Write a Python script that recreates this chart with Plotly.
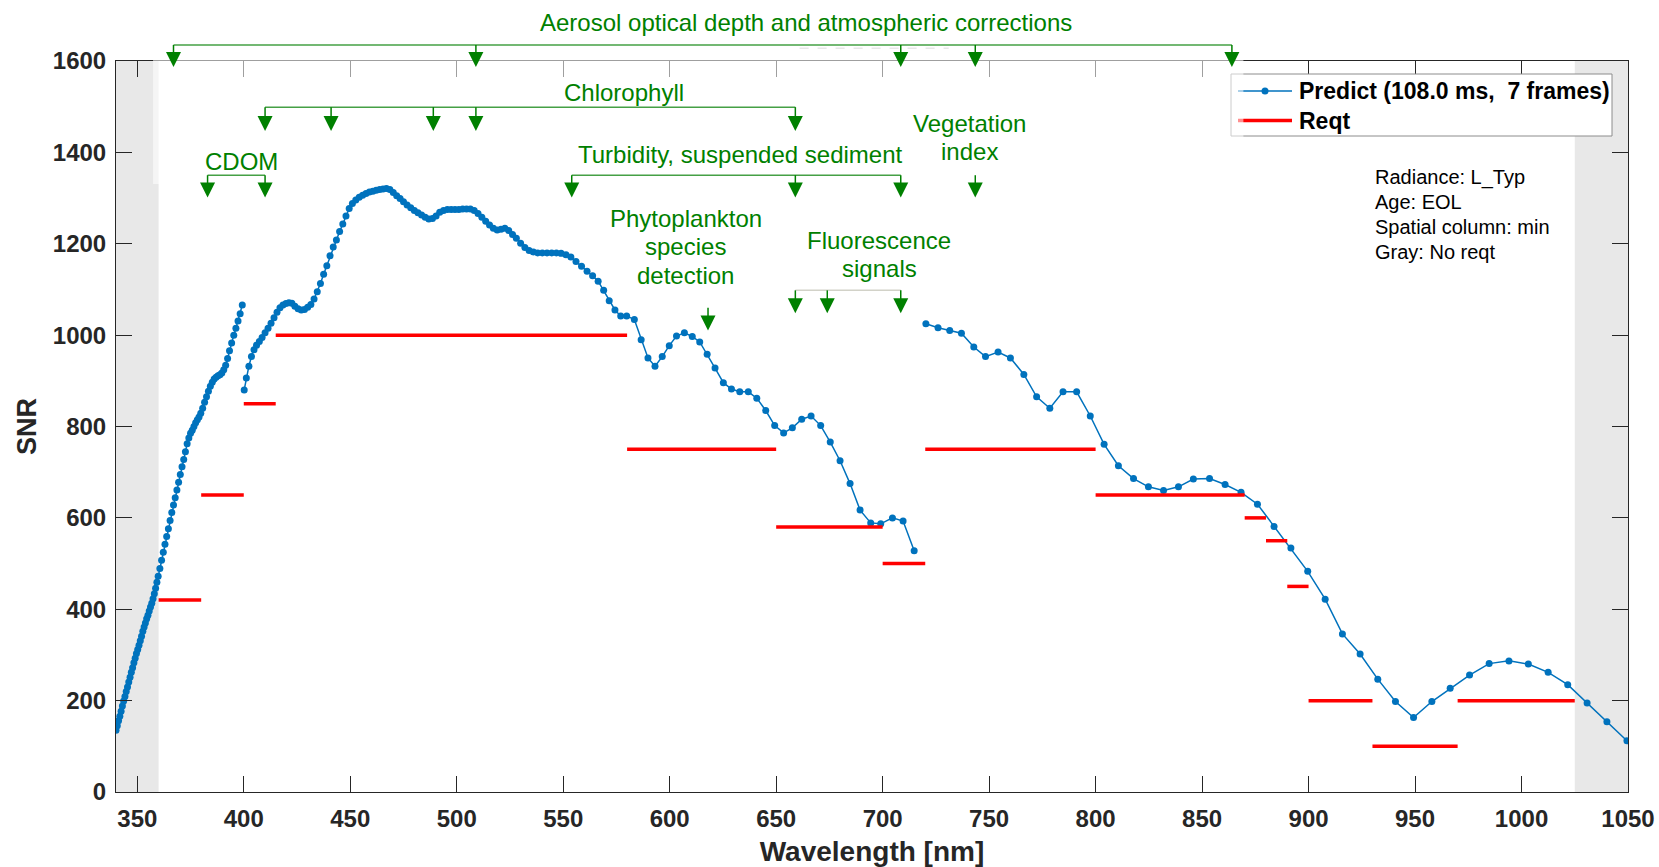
import plotly.graph_objects as go

FONT = "Liberation Sans, Arial, Helvetica, sans-serif"
AX_COLOR = "#262626"
GREEN = "#008000"
BLUE = "#0072BD"
RED = "#FF0000"

# ---------------- data ----------------
# Predict, segment 1 (340-399 nm)
seg1_wl = [340.0, 340.6, 341.2, 341.8, 342.4, 343.0, 343.6, 344.2, 344.8, 345.4,
           346.0, 346.6, 347.2, 347.8, 348.4, 349.0, 349.6, 350.2, 350.8, 351.4,
           352.0, 352.6, 353.2, 353.8, 354.4, 355.0, 355.6, 356.2, 356.8, 357.4,
           358.0, 358.6, 359.2, 359.8,
           360.6, 361.4, 362.2, 363.0, 363.8, 364.6, 365.4, 366.2, 367.0, 367.8,
           368.6, 369.4, 370.2, 371.0, 371.8, 372.6, 373.4, 374.2, 375.0, 375.8,
           376.6, 377.4, 378.2, 379.0, 379.8,
           380.7, 381.6, 382.5, 383.4, 384.3, 385.2, 386.1, 387.0, 387.9, 388.8,
           389.7, 390.6, 391.5, 392.4, 393.3, 394.3, 395.3, 396.3, 397.3, 398.3,
           399.3]
seg1_snr = [135, 145, 156, 166, 177, 188, 199, 209, 220, 230,
            241, 251, 262, 272, 283, 293, 303, 312, 321, 331,
            341, 352, 361, 370, 379, 387, 396, 405, 413, 423,
            434, 446, 459, 472,
            489, 507, 525, 542, 559, 576, 594, 612, 628, 644,
            661, 678, 695, 712, 728, 745, 762, 775, 785, 792,
            800, 808, 815, 821, 829,
            840, 853, 865, 877, 888, 897, 904, 908, 911, 913,
            917, 924, 934, 949, 966, 983, 1000, 1015, 1031, 1047,
            1066]

# Predict, segment 2 (400-715 nm)
seg2_wl = [400.2, 401.2, 402.4, 403.6, 404.8, 406.0, 407.3, 408.6, 410.0, 411.4,
           412.8, 414.2, 415.6, 417.0, 418.4, 419.8, 421.2, 422.6, 424.0, 425.5,
           427.0, 428.5, 430.0, 431.5, 433.0, 434.5, 436.0, 437.5, 439.0, 440.5,
           442.0, 443.5, 445.0, 446.5, 448.0, 449.5, 451.0, 452.6, 454.2, 455.8,
           457.4, 459.0, 460.6, 462.2, 463.8, 465.4, 467.0, 468.6, 470.2, 471.8,
           473.4, 475.0, 476.7, 478.4, 480.1, 481.8, 483.5, 485.2, 486.9, 488.6,
           490.3, 492.0, 493.8, 495.6, 497.4, 499.2, 501.0, 502.8, 504.6, 506.4,
           508.2, 510.0, 511.8, 513.6, 515.4, 517.2, 519.0, 520.8, 522.6, 524.4,
           526.2, 528.0, 530.0, 532.0, 534.0, 536.0, 538.0, 540.2, 542.4, 544.6,
           546.8, 549.0, 551.3, 553.6, 556.0, 558.6, 561.2, 563.8, 566.4, 569.0,
           571.6, 574.3, 577.0, 579.8, 583.4, 586.6, 589.8, 593.1, 596.5, 599.8,
           603.2, 606.9, 610.6, 614.1, 617.6, 621.3, 625.2, 629.0, 632.9, 636.9,
           640.9, 645.1, 649.3, 653.5, 657.6, 662.0, 666.4, 670.9, 675.4, 680.0,
           684.7, 689.4, 694.4, 699.1, 704.6, 709.6, 714.8]
seg2_snr = [880, 906, 932, 953, 968, 978, 986, 995, 1005, 1015,
            1026, 1038, 1050, 1060, 1066, 1069, 1071, 1070, 1063, 1058,
            1055, 1056, 1061, 1067, 1079, 1095, 1113, 1133, 1152, 1174,
            1193, 1208, 1227, 1243, 1261, 1277, 1288, 1296, 1302, 1306,
            1310, 1313, 1315, 1317, 1319, 1320, 1321, 1319, 1312, 1305,
            1299, 1292, 1285, 1279, 1273, 1268, 1263, 1258, 1254, 1255,
            1261, 1269, 1273, 1275, 1275, 1275, 1275, 1276, 1276, 1276,
            1273, 1266, 1258, 1249, 1241, 1234, 1230, 1232, 1234, 1229,
            1220, 1212, 1201, 1192, 1185, 1182, 1180, 1180, 1180, 1180,
            1180, 1179, 1176, 1171, 1161, 1151, 1140, 1130, 1118, 1098,
            1075, 1055, 1042, 1042, 1034, 990, 950, 932, 953, 977,
            998, 1005, 997, 985, 958, 928, 896, 882, 876, 876,
            862, 835, 802, 786, 797, 816, 823, 802, 766, 725,
            675, 617, 589, 587, 600, 593, 528]

# Predict, segment 3 (720-1050 nm)
seg3_wl = [720.3, 726.0, 731.5, 737.0, 742.8, 748.3, 754.2, 760.0, 766.3, 772.3,
           778.5, 784.7, 791.1, 797.5, 804.0, 810.7, 817.8, 824.8, 831.9, 838.9,
           845.9, 853.5, 860.8, 868.3, 876.0, 883.8, 891.7, 899.6, 907.8, 915.9,
           924.2, 932.5, 940.8, 949.3, 957.9, 966.5, 975.6, 984.8, 994.1, 1003.2,
           1012.5, 1021.7, 1030.8, 1040.1, 1049.5]
seg3_snr = [1025, 1016, 1010, 1004, 974, 953, 963, 950, 914, 865,
            840, 876, 876, 823, 761, 714, 686, 668, 660, 668,
            685, 686, 673, 656, 630, 581, 534, 483, 422, 346,
            302, 247, 198, 163, 198, 227, 256, 281, 287, 280,
            262, 235, 195, 154, 112]

# Requirement steps
reqt_start = [360, 380, 400, 415, 580, 650, 700, 720, 800, 870, 880, 890, 900, 930, 970]
reqt_end = [380, 400, 415, 580, 650, 700, 720, 800, 870, 880, 890, 900, 930, 970, 1025]
reqt_snr = [420, 650, 850, 1000, 750, 580, 500, 750, 650, 600, 550, 450, 200, 100, 200]

# Regions without requirement (gray)
noreqt_start = [340, 1025]
noreqt_end = [360, 1050]

# Axis ticks
x_ticks = [350, 400, 450, 500, 550, 600, 650, 700, 750, 800, 850, 900, 950, 1000, 1050]
y_ticks = [0, 200, 400, 600, 800, 1000, 1200, 1400, 1600]
X_RANGE = [340, 1050]
Y_RANGE = [0, 1600]

# Application bands (arrow wavelengths)
aerosol_wl = [367, 509, 708.5, 743.5, 864]
chlorophyll_wl = [410, 441, 489, 509, 659]
cdom_wl = [383, 410]
turbidity_wl = [554, 659, 708.5]
vegetation_wl = [743.5]
phyto_wl = [618]
fluor_wl = [659, 674, 708.5]

legend_names = ["Predict (108.0 ms,\u00a0 7 frames)", "Reqt"]
info_lines = ["Radiance: L_Typ", "Age: EOL", "Spatial column: min", "Gray: No reqt"]

# ---------------- figure ----------------
W, H = 1659, 867
ML, MR, MT, MB = 116, 31, 61, 75
PW, PH = W - ML - MR, H - MT - MB


def ypaper(v):
    return (v - Y_RANGE[0]) / (Y_RANGE[1] - Y_RANGE[0])


def px_x(p):  # page pixel -> paper x
    return (p - ML) / PW


def px_y(p):  # page pixel -> paper y
    return (H - MB - p) / PH


pred_x = seg1_wl + [None] + seg2_wl + [None] + seg3_wl
pred_y = seg1_snr + [None] + seg2_snr + [None] + seg3_snr

rx, ry = [], []
for a, b, v in zip(reqt_start, reqt_end, reqt_snr):
    rx += [a, b, None]
    ry += [v, v, None]

fig = go.Figure()
fig.add_trace(go.Scatter(
    x=pred_x, y=pred_y, mode="lines+markers", name=legend_names[0],
    line=dict(color=BLUE, width=1.5),
    marker=dict(color=BLUE, size=7),
    connectgaps=False, hoverinfo="skip", showlegend=False))
fig.add_trace(go.Scatter(
    x=rx, y=ry, mode="lines", name=legend_names[1],
    line=dict(color=RED, width=3.5),
    connectgaps=False, hoverinfo="skip", showlegend=False))

shapes = []
annotations = []

# gray no-reqt bands
for a, b in zip(noreqt_start, noreqt_end):
    shapes.append(dict(type="rect", xref="x", yref="y", x0=a, x1=b,
                       y0=Y_RANGE[0], y1=Y_RANGE[1], fillcolor="#e8e8e8",
                       line=dict(width=0), layer="below"))

# ---- legend box (drawn manually) ----
shapes.append(dict(type="rect", xref="paper", yref="paper",
                   x0=px_x(1231), x1=px_x(1612), y0=px_y(136), y1=px_y(74),
                   fillcolor="white", line=dict(color="#8c8c8c", width=1), layer="above"))
row_y = [px_y(91), px_y(120.5)]
shapes.append(dict(type="line", xref="paper", yref="paper",
                   x0=px_x(1238), x1=px_x(1292), y0=row_y[0], y1=row_y[0],
                   line=dict(color=BLUE, width=1.5), layer="above"))
shapes.append(dict(type="circle", xref="paper", yref="paper",
                   xsizemode="pixel", ysizemode="pixel",
                   xanchor=px_x(1265), yanchor=row_y[0],
                   x0=-3.5, x1=3.5, y0=-3.5, y1=3.5,
                   fillcolor=BLUE, line=dict(width=0), layer="above"))
shapes.append(dict(type="line", xref="paper", yref="paper",
                   x0=px_x(1238), x1=px_x(1292), y0=row_y[1], y1=row_y[1],
                   line=dict(color=RED, width=3.5), layer="above"))
for yy, name in zip(row_y, legend_names):
    annotations.append(dict(x=px_x(1297), y=yy, xref="paper", yref="paper",
                            text="<b>" + name + "</b>", showarrow=False,
                            xanchor="left", yanchor="middle",
                            font=dict(family=FONT, size=23, color="black")))

# faint hidden text remnant under the aerosol bracket
shapes.append(dict(type="line", xref="x", yref="paper", x0=661, x1=731,
                   y0=ypaper(1628), y1=ypaper(1628),
                   line=dict(color="#c8c8c8", width=1.5, dash="dash"), layer="above"))
# semi-transparent white box (lightens top axis / band / legend edge)
shapes.append(dict(type="rect", xref="x", yref="paper", x0=357.4, x1=869.4,
                   y0=ypaper(1331), y1=ypaper(1650), fillcolor="white",
                   opacity=0.56, line=dict(width=0), layer="above"))

BR_COLOR = "#45a045"
TRI_H_SNR = 15 / (PH / (Y_RANGE[1] - Y_RANGE[0]))  # 15 px in data units


def add_group(wls, tip, top, bracket=True, br_color=BR_COLOR):
    if bracket and len(wls) > 1:
        shapes.append(dict(type="line", xref="x", yref="paper",
                           x0=min(wls), x1=max(wls), y0=ypaper(top), y1=ypaper(top),
                           line=dict(color=br_color, width=1.5), layer="above"))
    for w in wls:
        shapes.append(dict(type="line", xref="x", yref="paper", x0=w, x1=w,
                           y0=ypaper(top), y1=ypaper(tip + TRI_H_SNR * 0.9),
                           line=dict(color=GREEN, width=1.5), layer="above"))
        shapes.append(dict(type="path", xref="x", yref="paper",
                           xsizemode="pixel", ysizemode="pixel",
                           xanchor=w, yanchor=ypaper(tip),
                           path="M0,0 L-7.5,15 L7.5,15 Z",
                           fillcolor=GREEN, line=dict(width=0), layer="above"))


add_group(aerosol_wl, 1587, 1635)
add_group(chlorophyll_wl, 1447, 1499)
add_group(cdom_wl, 1301, 1350)
add_group(turbidity_wl, 1301, 1350)
add_group(vegetation_wl, 1301, 1350, bracket=False)
add_group(phyto_wl, 1010, 1060, bracket=False)
add_group(fluor_wl, 1048, 1098, br_color="#d2d2c8")


def add_text(x, ys, lines, size=24, color=GREEN, anchor="center"):
    for y, t in zip(ys, lines):
        annotations.append(dict(x=x, y=ypaper(y), xref="x", yref="paper", text=t,
                                showarrow=False, xanchor=anchor, yanchor="middle",
                                font=dict(family=FONT, size=size, color=color)))


add_text(663.8, [1685], ["Aerosol optical depth and atmospheric corrections"])
add_text(578.7, [1532], ["Chlorophyll"])
add_text(399.1, [1381], ["CDOM"])
add_text(633.4, [1396], ["Turbidity, suspended sediment"])
add_text(740.9, [1463, 1401], ["Vegetation", "index"])
add_text(607.6, [1255, 1193, 1130], ["Phytoplankton", "species", "detection"])
add_text(698.5, [1208, 1145], ["Fluorescence", "signals"])
add_text(930.3, [1346, 1291, 1237, 1181], info_lines, size=20, color="black", anchor="left")

axis_common = dict(
    ticks="inside", ticklen=16, tickwidth=1, tickcolor=AX_COLOR,
    showline=True, linecolor=AX_COLOR, linewidth=1, mirror="ticks",
    showgrid=False, zeroline=False,
    tickfont=dict(family=FONT, size=24, color=AX_COLOR, weight="bold"),
    automargin=False,
)

fig.update_layout(
    width=W, height=H,
    margin=dict(l=ML, r=MR, t=MT, b=MB),
    plot_bgcolor="white", paper_bgcolor="white",
    showlegend=False,
    xaxis=dict(range=X_RANGE, tickvals=x_ticks, ticktext=[str(v) for v in x_ticks],
               ticklabelstandoff=5,
               title=dict(text="Wavelength [nm]", standoff=15,
                          font=dict(family=FONT, size=28, color=AX_COLOR, weight="bold")),
               **axis_common),
    yaxis=dict(range=Y_RANGE, tickvals=y_ticks, ticktext=[str(v) for v in y_ticks],
               ticklabelstandoff=4,
               title=dict(text="SNR", standoff=8,
                          font=dict(family=FONT, size=27, color=AX_COLOR, weight="bold")),
               **axis_common),
    shapes=shapes,
    annotations=annotations,
)

fig.write_html("out.html", config={"displayModeBar": False})
